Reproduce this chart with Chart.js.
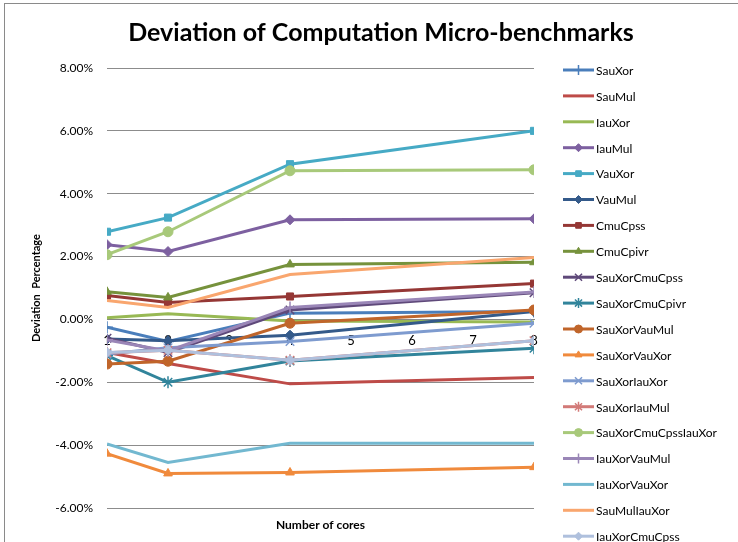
<!DOCTYPE html>
<html>
<head>
<meta charset="utf-8">
<script src="https://cdn.jsdelivr.net/npm/chart.js@4/dist/chart.umd.min.js"></script>
<style>
  html, body { margin: 0; padding: 0; background: #fff; }
  #wrap { width: 738px; height: 542px; position: relative; }
</style>
</head>
<body>
<div id="wrap"><canvas id="chart-deviation" width="738" height="542"></canvas></div>
<script>
// number of cores on the x axis
const cores = [1, 2, 4, 8];
const xTicks = [1, 2, 3, 4, 5, 6, 7, 8];
const yTicks = [-6, -4, -2, 0, 2, 4, 6, 8];

const chartTitle = "Deviation of Computation Micro-benchmarks";

const seriesNames = [
  "SauXor", "SauMul", "IauXor", "IauMul", "VauXor", "VauMul", "CmuCpss",
  "CmuCpivr", "SauXorCmuCpss", "SauXorCmuCpivr", "SauXorVauMul", "SauXorVauXor",
  "SauXorIauXor", "SauXorIauMul", "SauXorCmuCpssIauXor", "IauXorVauMul",
  "IauXorVauXor", "SauMulIauXor", "IauXorCmuCpss"
];

// deviation (%) at 1, 2, 4, 8 cores
const sauXor = [-0.25, -0.7, 0.2, 0.25];
const sauMul = [-1.05, -1.4, -2.05, -1.85];
const iauXor = [0.05, 0.18, -0.05, -0.08];
const iauMul = [2.38, 2.16, 3.17, 3.2];
const vauXor = [2.79, 3.24, 4.94, 6.0];
const vauMul = [-0.62, -0.68, -0.5, 0.25];
const cmuCpss = [0.76, 0.54, 0.73, 1.14];
const cmuCpivr = [0.88, 0.7, 1.75, 1.82];
const sauXorCmuCpss = [-0.6, -1.05, 0.3, 0.85];
const sauXorCmuCpivr = [-1.15, -2.0, -1.32, -0.92];
const sauXorVauMul = [-1.42, -1.33, -0.12, 0.3];
const sauXorVauXor = [-4.27, -4.9, -4.87, -4.7];
const sauXorIauXor = [-1.1, -0.9, -0.7, -0.12];
const sauXorIauMul = [-1.06, -0.98, -1.3, -0.68];
const sauXorCmuCpssIauXor = [2.06, 2.79, 4.73, 4.76];
const iauXorVauMul = [-0.65, -1.0, 0.38, 0.87];
const iauXorVauXor = [-3.96, -4.55, -3.94, -3.94];
const sauMulIauXor = [0.6, 0.38, 1.43, 1.97];
const iauXorCmuCpss = [-1.05, -0.98, -1.3, -0.68];

const seriesValues = [
  sauXor, sauMul, iauXor, iauMul, vauXor, vauMul, cmuCpss, cmuCpivr,
  sauXorCmuCpss, sauXorCmuCpivr, sauXorVauMul, sauXorVauXor, sauXorIauXor,
  sauXorIauMul, sauXorCmuCpssIauXor, iauXorVauMul, iauXorVauXor,
  sauMulIauXor, iauXorCmuCpss
];

const colors = [
  "#4A7EBB", "#BE4B48", "#98B954", "#7D60A0", "#46AAC5", "#345A8A", "#953735",
  "#76923C", "#5F497A", "#31849B", "#C0652A", "#F08A3C", "#7E9BCF",
  "#D27A78", "#A8C97A", "#9A86B7", "#72B8D0", "#F9A66E", "#AFC0DD"
];
// false = no marker
const markers = [
  "cross", false, false, "rectRot", "rect", "rectRot", "rect",
  "triangle", "crossRot", "star", "circle", "triangle", "crossRot",
  "star", "circle", "cross", false, false, "rectRot"
];

const FONT = "Lato, 'DejaVu Sans', sans-serif";
const strokeOnly = s => s === "cross" || s === "crossRot" || s === "star";

const datasets = seriesNames.map((name, i) => ({
  label: name,
  data: cores.map((c, j) => ({ x: c, y: seriesValues[i][j] })),
  borderColor: colors[i],
  backgroundColor: colors[i],
  borderWidth: 3,
  tension: 0,
  pointStyle: markers[i] || false,
  pointRadius: markers[i] ? (strokeOnly(markers[i]) ? 6 : 5) : 0,
  pointBorderWidth: strokeOnly(markers[i]) ? 1.5 : 1,
  pointBackgroundColor: colors[i],
  pointBorderColor: colors[i],
  order: seriesNames.length - i // later series on top, like excel
}));

// title centred over the whole picture (not only the plot)
const topTitle = {
  id: "topTitle",
  afterDraw(chart) {
    const ctx = chart.ctx;
    ctx.save();
    ctx.font = "bold 25px " + FONT;
    ctx.fillStyle = "#000";
    ctx.textAlign = "center";
    ctx.textBaseline = "middle";
    ctx.fillText(chartTitle, 381, 33);
    ctx.restore();
  }
};

// legend on the right with line + marker
const sideLegend = {
  id: "sideLegend",
  afterDraw(chart) {
    const ctx = chart.ctx;
    ctx.save();
    ctx.font = "12px " + FONT;
    ctx.textBaseline = "middle";
    chart.data.datasets.forEach((ds, i) => {
      const y = 70 + i * 25.9;
      ctx.strokeStyle = ds.borderColor;
      ctx.lineWidth = 3;
      ctx.beginPath();
      ctx.moveTo(563, y);
      ctx.lineTo(594, y);
      ctx.stroke();
      if (ds.pointStyle) {
        ctx.fillStyle = ds.borderColor;
        ctx.lineWidth = ds.pointBorderWidth;
        Chart.helpers.drawPoint(ctx, {
          pointStyle: ds.pointStyle,
          radius: ds.pointRadius - 1,
          rotation: 0,
          borderWidth: ds.pointBorderWidth
        }, 578.5, y);
      }
      ctx.fillStyle = "#000";
      ctx.fillText(ds.label, 596, y + 1);
    });
    ctx.restore();
  }
};

const frame = {
  id: "frame",
  beforeDraw(chart) {
    const ctx = chart.ctx;
    ctx.save();
    ctx.fillStyle = "#fff";
    ctx.fillRect(0, 0, chart.width, chart.height);
    ctx.strokeStyle = "#8a8a8a";
    ctx.lineWidth = 1;
    ctx.strokeRect(4.5, 3.5, 760, 600);
    ctx.restore();
  }
};

const ctx = document.getElementById("chart-deviation").getContext("2d");
new Chart(ctx, {
  type: "line",
  data: { datasets },
  plugins: [frame, topTitle, sideLegend],
  options: {
    responsive: false,
    animation: false,
    layout: { padding: { left: 8, right: 204, top: 68, bottom: 0 } },
    plugins: {
      legend: { display: false },
      tooltip: { enabled: false },
      title: { display: false }
    },
    scales: {
      x: {
        type: "linear",
        min: 1,
        max: 8,
        position: { y: 0 },
        afterBuildTicks: s => { s.ticks = xTicks.map(v => ({ value: v })); },
        grid: { display: false, drawTicks: false },
        border: { display: true, color: "#868686", width: 1 },
        ticks: {
          padding: 14,
          color: "#000",
          font: { family: FONT, size: 13 }
        }
      },
      x2: {
        type: "linear",
        position: "bottom",
        min: 1,
        max: 8,
        grid: { display: false, drawTicks: false },
        border: { display: false },
        ticks: { display: false },
        title: {
          display: true,
          text: "Number of cores",
          color: "#000",
          font: { family: FONT, size: 12, weight: "bold" },
          padding: { top: 4, bottom: 10 }
        },
        afterFit: s => { s.height = 34; }
      },
      y: {
        min: -6,
        max: 8,
        afterBuildTicks: s => { s.ticks = yTicks.map(v => ({ value: v })); },
        grid: { color: "#8c8c8c", lineWidth: 1, drawTicks: false },
        border: { display: false },
        ticks: {
          padding: 14,
          color: "#000",
          font: { family: FONT, size: 12 },
          callback: v => v.toFixed(2) + "%"
        },
        title: {
          display: true,
          text: "Deviation  Percentage",
          color: "#000",
          font: { family: FONT, size: 11, weight: "bold" },
          padding: { top: 22, bottom: 0 }
        },
        afterFit: s => { s.width = 99; }
      }
    }
  }
});
</script>
</body>
</html>
